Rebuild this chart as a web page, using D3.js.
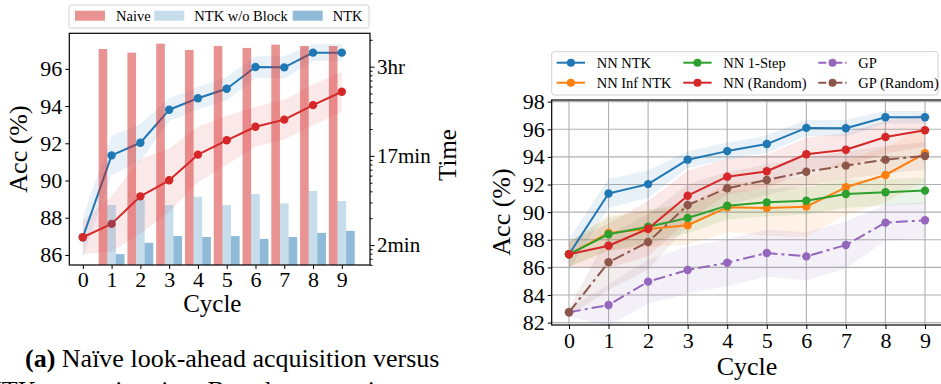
<!DOCTYPE html>
<html>
<head>
<meta charset="utf-8">
<script src="https://cdn.jsdelivr.net/npm/d3@7"></script>
<style>
  body { margin: 0; background: #fff; }
  text, tspan { font-family: "Liberation Serif", "Times New Roman", serif; fill: #000; }
</style>
</head>
<body>
<svg id="fig" width="941" height="384"></svg>
<script>
// ---------- data ----------
const cycles = [0, 1, 2, 3, 4, 5, 6, 7, 8, 9];
const barCycles = [1, 2, 3, 4, 5, 6, 7, 8, 9];

// panel (a): accuracy (%) of NTK vs naive look-ahead
const ntkAcc   = [86.95, 91.35, 92.03, 93.80, 94.42, 94.93, 96.10, 96.08, 96.87, 96.87];
const ntkStd   = [1.1, 1.05, 1.0, 0.6, 0.6, 0.63, 0.58, 0.6, 0.45, 0.45];
const naiveAcc = [86.95, 87.67, 89.15, 90.01, 91.39, 92.16, 92.89, 93.27, 94.05, 94.77];
const naiveStd = [0.9, 1.5, 2.0, 1.7, 1.5, 1.3, 1.07, 1.07, 1.1, 1.07];

// panel (a): wall-clock time per cycle (seconds, log axis)
const timeNaive   = [15780, 14350, 18110, 15390, 17060, 16230, 17660, 17060, 17060];
const timeNoBlock = [281, 319, 281, 348, 281, 373, 293, 403, 311];
const timeNTK     = [79, 106, 126, 123, 126, 117, 123, 137, 144];
const timeTicks   = [100, 1000, 10000];
const timeLabels  = ["2min", "17min", "3hr"];
const accTicksA   = [86, 88, 90, 92, 94, 96];

// panel (b): accuracy (%) per method
const nnNTK      = [86.95, 91.35, 92.03, 93.80, 94.42, 94.93, 96.10, 96.08, 96.87, 96.87];
const nnNTKStd   = [1.1, 1.05, 1.0, 0.6, 0.6, 0.63, 0.58, 0.6, 0.45, 0.45];
const nnInfNTK   = [86.95, 88.50, 88.78, 89.05, 90.35, 90.30, 90.40, 91.80, 92.69, 94.26];
const nnInfStd   = [0.9, 1.3, 1.3, 1.4, 1.8, 2.0, 2.2, 2.0, 2.0, 2.0];
const nn1Step    = [86.95, 88.40, 88.95, 89.58, 90.47, 90.71, 90.83, 91.32, 91.44, 91.56];
const nn1StepStd = [0.9, 1.2, 1.2, 1.1, 1.0, 1.0, 1.0, 1.0, 0.95, 0.95];
const nnRandom   = [86.95, 87.57, 88.80, 91.19, 92.57, 92.96, 94.19, 94.52, 95.44, 95.93];
const nnRandStd  = [0.9, 1.6, 2.0, 1.8, 1.3, 1.2, 1.2, 1.2, 1.2, 1.2];
const gpAcc      = [82.75, 83.28, 84.97, 85.81, 86.34, 87.04, 86.80, 87.62, 89.24, 89.41];
const gpStd      = [0.3, 1.5, 1.6, 1.7, 1.7, 1.7, 1.75, 1.7, 1.3, 1.3];
const gpRandom   = [82.75, 86.37, 87.84, 90.52, 91.73, 92.33, 92.93, 93.37, 93.80, 94.07];
const gpRandStd  = [0.3, 2.0, 2.0, 1.5, 1.2, 1.1, 1.0, 1.0, 1.0, 1.0];
const accTicksB  = [82, 84, 86, 88, 90, 92, 94, 96, 98];

const C = { blue: "#1f77b4", orange: "#ff7f0e", green: "#2ca02c", red: "#d62728", purple: "#9467bd", brown: "#8c564b" };
const SERIF = '"Liberation Serif", "Times New Roman", serif';

const svg = d3.select("#fig");
svg.append("rect").attr("width", 941).attr("height", 384).attr("fill", "#fff");

function styleAxis(g, fs) {
  g.select(".domain").remove();
  g.selectAll(".tick line").attr("stroke", "#000").attr("stroke-width", 1);
  g.selectAll(".tick text").attr("font-size", fs).attr("font-family", SERIF).attr("fill", "#000");
}

// ================= panel (a) =================
const A = { l: 69.3, r: 370, t: 33.3, b: 265 };
const xA = d3.scaleLinear().domain([-0.47, 9.98]).range([A.l, A.r]);
const yA = d3.scaleLinear().domain([85.46, 97.91]).range([A.b, A.t]);
const yT = d3.scaleLog().domain([59.7, 23660]).range([A.b, A.t]);

const gA = svg.append("g");
const area = (x, y, m, s) => d3.area().x((d, i) => x(cycles[i])).y0((d, i) => y(m[i] - s[i])).y1((d, i) => y(m[i] + s[i]))(m);
const line = (x, y) => d3.line().x((d, i) => x(cycles[i])).y(d => y(d));

// shaded ±std bands
gA.append("path").attr("d", area(xA, yA, ntkAcc, ntkStd)).attr("fill", C.blue).attr("fill-opacity", 0.1);
gA.append("path").attr("d", area(xA, yA, naiveAcc, naiveStd)).attr("fill", C.red).attr("fill-opacity", 0.1);

function drawSeries(g, x, y, vals, color, dash) {
  g.append("path").attr("d", line(x, y)(vals)).attr("fill", "none").attr("stroke", color)
    .attr("stroke-width", 2).attr("stroke-dasharray", dash || null).attr("stroke-linejoin", "round");
  g.selectAll(null).data(vals).enter().append("circle")
    .attr("cx", (d, i) => x(cycles[i])).attr("cy", d => y(d)).attr("r", 4.2).attr("fill", color);
}
drawSeries(gA, xA, yA, ntkAcc, C.blue);
drawSeries(gA, xA, yA, naiveAcc, C.red);

// timing bars (twin log axis, drawn above the lines)
const bw = 0.3;
const barSets = [
  { vals: timeNaive, off: -0.3, color: C.red, op: 0.5 },
  { vals: timeNoBlock, off: 0, color: C.blue, op: 0.25 },
  { vals: timeNTK, off: 0.3, color: C.blue, op: 0.5 }
];
barSets.forEach(s => {
  gA.selectAll(null).data(s.vals).enter().append("rect")
    .attr("x", (d, i) => xA(barCycles[i] + s.off - bw / 2))
    .attr("width", xA(bw) - xA(0))
    .attr("y", d => yT(d))
    .attr("height", d => A.b - yT(d))
    .attr("fill", s.color).attr("fill-opacity", s.op);
});

// axes
const axA_l = gA.append("g").attr("transform", `translate(${A.l},0)`)
  .call(d3.axisLeft(yA).tickValues(accTicksA).tickSize(4).tickPadding(3));
styleAxis(axA_l, 22);
const axA_b = gA.append("g").attr("transform", `translate(0,${A.b})`)
  .call(d3.axisBottom(xA).tickValues(cycles).tickSize(4).tickPadding(2));
styleAxis(axA_b, 22);
const minorT = [];
[10, 100, 1000, 10000].forEach(b => { for (let k = 2; k <= 9; k++) { const v = b * k; if (v > 59.7 && v < 23660) minorT.push(v); } });
const axA_rm = gA.append("g").attr("transform", `translate(${A.r},0)`)
  .call(d3.axisRight(yT).tickValues(minorT).tickSize(2.5).tickFormat(""));
styleAxis(axA_rm, 0);
const axA_r = gA.append("g").attr("transform", `translate(${A.r},0)`)
  .call(d3.axisRight(yT).tickValues(timeTicks).tickSize(4.5).tickPadding(2.5).tickFormat((d, i) => timeLabels[i]));
styleAxis(axA_r, 21);
gA.append("rect").attr("x", A.l).attr("y", A.t).attr("width", A.r - A.l).attr("height", A.b - A.t)
  .attr("fill", "none").attr("stroke", "#000").attr("stroke-width", 1.2);

gA.append("text").attr("transform", `translate(27,149) rotate(-90)`).attr("text-anchor", "middle")
  .attr("font-size", 26).text("Acc (%)");
gA.append("text").attr("transform", `translate(456,155) rotate(-90)`).attr("text-anchor", "middle")
  .attr("font-size", 25).text("Time");
gA.append("text").attr("x", xA(4.5)).attr("y", 312).attr("text-anchor", "middle").attr("font-size", 25).text("Cycle");

// legend (a)
const legA = gA.append("g");
legA.append("rect").attr("x", 69).attr("y", 5).attr("width", 300).attr("height", 23).attr("rx", 2.5)
  .attr("fill", "#fff").attr("fill-opacity", 0.8).attr("stroke", "#d0d0d0").attr("stroke-width", 1);
const legAItems = [
  { name: "Naive", color: C.red, op: 0.5, px: 75, tx: 116 },
  { name: "NTK w/o Block", color: C.blue, op: 0.25, px: 154.3, tx: 194.3 },
  { name: "NTK", color: C.blue, op: 0.5, px: 292.7, tx: 332.7 }
];
legAItems.forEach(it => {
  legA.append("rect").attr("x", it.px).attr("y", 10.7).attr("width", 30).attr("height", 10)
    .attr("fill", it.color).attr("fill-opacity", it.op);
  legA.append("text").attr("x", it.tx).attr("y", 20.5).attr("font-size", 14.5).text(it.name);
});

// ================= panel (b) =================
const B = { l: 551.7, r: 942.3, t: 100, b: 325 };
const xB = d3.scaleLinear().domain([-0.437, 9.437]).range([B.l, B.r]);
const yB = d3.scaleLinear().domain([81.83, 98.12]).range([B.b, B.t]);
const gB = svg.append("g");

// grid
gB.selectAll(null).data(cycles).enter().append("line")
  .attr("x1", d => xB(d)).attr("x2", d => xB(d)).attr("y1", B.t).attr("y2", B.b)
  .attr("stroke", "#b0b0b0").attr("stroke-width", 1.1);
gB.selectAll(null).data(accTicksB).enter().append("line")
  .attr("x1", B.l).attr("x2", B.r).attr("y1", d => yB(d)).attr("y2", d => yB(d))
  .attr("stroke", "#b0b0b0").attr("stroke-width", 1.1);

const seriesB = [
  { name: "NN NTK", vals: nnNTK, std: nnNTKStd, color: C.blue },
  { name: "NN Inf NTK", vals: nnInfNTK, std: nnInfStd, color: C.orange },
  { name: "NN 1-Step", vals: nn1Step, std: nn1StepStd, color: C.green },
  { name: "NN (Random)", vals: nnRandom, std: nnRandStd, color: C.red },
  { name: "GP", vals: gpAcc, std: gpStd, color: C.purple, dash: "12,4,3,4" },
  { name: "GP (Random)", vals: gpRandom, std: gpRandStd, color: C.brown, dash: "12,4,3,4" }
];
seriesB.forEach(s => {
  gB.append("path").attr("d", area(xB, yB, s.vals, s.std)).attr("fill", s.color).attr("fill-opacity", 0.1);
});
seriesB.forEach(s => drawSeries(gB, xB, yB, s.vals, s.color, s.dash));

const axB_l = gB.append("g").attr("transform", `translate(${B.l},0)`)
  .call(d3.axisLeft(yB).tickValues(accTicksB).tickSize(4).tickPadding(3));
styleAxis(axB_l, 22);
const axB_b = gB.append("g").attr("transform", `translate(0,${B.b})`)
  .call(d3.axisBottom(xB).tickValues(cycles).tickSize(4).tickPadding(3));
styleAxis(axB_b, 22);
gB.append("rect").attr("x", B.l).attr("y", B.t).attr("width", B.r - B.l).attr("height", B.b - B.t)
  .attr("fill", "none").attr("stroke", "#000").attr("stroke-width", 1.2);

gB.append("text").attr("transform", `translate(510,212) rotate(-90)`).attr("text-anchor", "middle")
  .attr("font-size", 26).text("Acc (%)");
gB.append("text").attr("x", xB(4.5)).attr("y", 375).attr("text-anchor", "middle").attr("font-size", 26).text("Cycle");

// legend (b)
const legB = gB.append("g");
legB.append("rect").attr("x", 551.7).attr("y", 51.7).attr("width", 386.3).attr("height", 43.3).attr("rx", 2.5)
  .attr("fill", "#fff").attr("fill-opacity", 0.8).attr("stroke", "#d0d0d0").attr("stroke-width", 1);
const colX = [556.7, 683.3, 818.3];
const rowY = [62.7, 82.7];
seriesB.forEach((s, i) => {
  const cx = colX[Math.floor(i / 2)], cy = rowY[i % 2];
  legB.append("line").attr("x1", cx).attr("x2", cx + 28.3).attr("y1", cy).attr("y2", cy)
    .attr("stroke", s.color).attr("stroke-width", 2).attr("stroke-dasharray", s.dash ? "8,3,2,3" : null);
  legB.append("circle").attr("cx", cx + 14.2).attr("cy", cy).attr("r", 4).attr("fill", s.color);
  legB.append("text").attr("x", cx + 40).attr("y", cy + 5).attr("font-size", 14.5).text(s.name);
});

// caption
const cap = svg.append("text").attr("x", 25).attr("y", 367).attr("font-size", 26).attr("font-family", SERIF);
cap.append("tspan").attr("font-weight", "bold").attr("font-family", SERIF).text("(a)");
cap.append("tspan").attr("font-family", SERIF).text(" Naïve look-ahead acquisition versus");
svg.append("text").attr("x", -17).attr("y", 398.5).attr("font-size", 26).attr("font-family", SERIF)
  .text("NTK approximation. Based on experiments");
</script>
</body>
</html>
